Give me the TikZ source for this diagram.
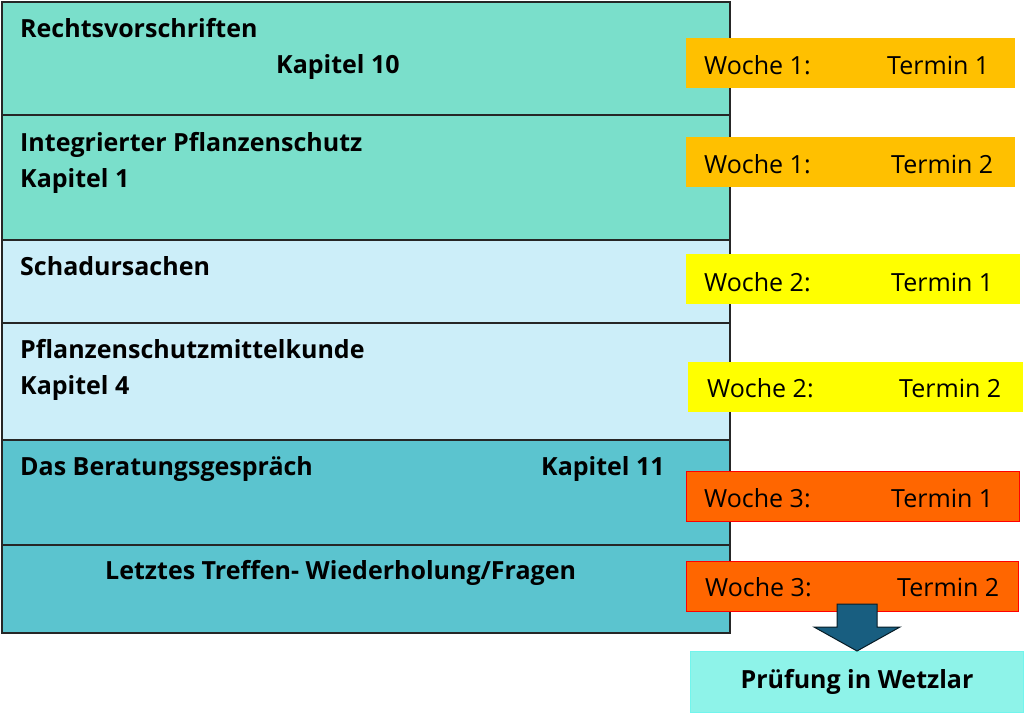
\documentclass[tikz,border=0pt]{standalone}
\usepackage{fontspec}
\setmainfont{Open Sans}
\usetikzlibrary{positioning}
\definecolor{mint}{RGB}{122,223,203}
\definecolor{hellblau}{RGB}{204,238,249}
\definecolor{petrol}{RGB}{91,196,207}
\definecolor{gold}{RGB}{255,192,0}
\definecolor{gelb}{RGB}{255,255,0}
\definecolor{rotorange}{RGB}{255,102,0}
\definecolor{tuerkis}{RGB}{142,243,233}
\definecolor{pfeilblau}{RGB}{24,94,128}

\begin{document}
\begin{tikzpicture}[%
  x=1pt,y=-1pt,
  zeile/.style={rectangle,draw=black!85,line width=1.6pt,anchor=north west,
    minimum width=728pt,inner sep=0pt},
  thema/.style={anchor=base west,inner sep=0pt,
    font=\bfseries\fontsize{25}{28}\selectfont},
  termin/.style={rectangle,anchor=north west,minimum height=50pt,inner sep=0pt},
  woche/.style={anchor=base west,inner sep=0pt,font=\fontsize{25}{28}\selectfont},
  w1/.style={termin,fill=gold},
  w2/.style={termin,fill=gelb},
  w3/.style={termin,fill=rotorange,draw=red,line width=1pt}]
    \useasboundingbox (0,0) rectangle (1024,713);
    % Themenzeilen
    \node[zeile,fill=mint,minimum height=113pt] (z1) at (1,1) {};
    \node[zeile,fill=mint,minimum height=125pt] (z2) at (1,114) {};
    \node[zeile,fill=hellblau,minimum height=83pt] (z3) at (1,239) {};
    \node[zeile,fill=hellblau,minimum height=117pt] (z4) at (1,322) {};
    \node[zeile,fill=petrol,minimum height=105pt] (z5) at (1,439) {};
    \node[zeile,fill=petrol,minimum height=88pt] (z6) at (1,544) {};
    % Texte
    \node[thema] (t1) at (20,37) {Rechtsvorschriften};
    \node[thema] (k10) at (276,73) {Kapitel 10};
    \node[thema] (t2) at (20,151) {Integrierter Pflanzenschutz};
    \node[thema] (k1) at (20,187) {Kapitel 1};
    \node[thema] (t3) at (20,275) {Schadursachen};
    \node[thema] (t4) at (20,358) {Pflanzenschutzmittelkunde};
    \node[thema] (k4) at (20,394) {Kapitel 4};
    \node[thema] (t5) at (20,475) {Das Beratungsgespräch};
    \node[thema] (k11) at (541,475) {Kapitel 11};
    \node[thema] (t6) at (105,579) {Letztes Treffen- Wiederholung/Fragen};
    % Termine
    \node[w1,minimum width=329pt] (w11) at (686,38) {};
    \node[w1,minimum width=329pt] (w12) at (686,137) {};
    \node[w2,minimum width=334pt] (w21) at (686,254) {};
    \node[w2,minimum width=335pt] (w22) at (688,362) {};
    \node[w3,minimum width=333pt] (w31) at (686,471) {};
    \node[w3,minimum width=332pt] (w32) at (686,561) {};
    \node[woche] (a11) at (704,74) {Woche 1:};
    \node[woche] (b11) at (887,74) {Termin 1};
    \node[woche] (a12) at (704,173) {Woche 1:};
    \node[woche] (b12) at (891,173) {Termin 2};
    \node[woche] (a21) at (704,291) {Woche 2:};
    \node[woche] (b21) at (891,291) {Termin 1};
    \node[woche] (a22) at (707,397) {Woche 2:};
    \node[woche] (b22) at (899,397) {Termin 2};
    \node[woche] (a31) at (704,507) {Woche 3:};
    \node[woche] (b31) at (891,507) {Termin 1};
    \node[woche] (a32) at (705,596) {Woche 3:};
    \node[woche] (b32) at (897,596) {Termin 2};
    % Pruefung
    \node[rectangle,anchor=north west,fill=tuerkis,draw=tuerkis!80!cyan,line width=1pt,
      minimum width=333pt,minimum height=61pt,inner sep=0pt,
      font=\bfseries\fontsize{25}{28}\selectfont] (pruef) at (690,651) {Prüfung in Wetzlar};
    \coordinate (spitze) at (pruef.north -| 857,0);
    \draw[fill=pfeilblau,draw=black!70!pfeilblau,line width=1pt]
      (837,604) -- (877,604) -- (877,627) -- (900,627) -- (spitze)
      -- (814,627) -- (837,627) -- cycle;
\end{tikzpicture}
\end{document}
